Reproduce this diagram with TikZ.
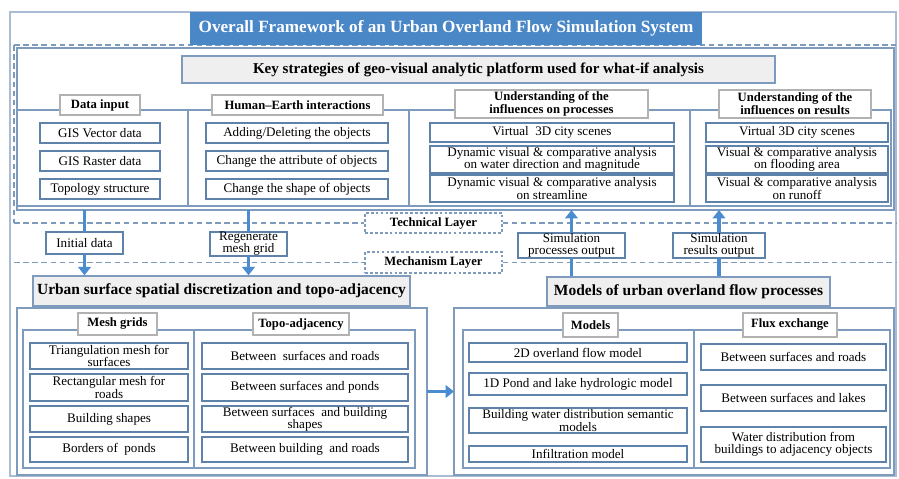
\documentclass[tikz,border=0pt]{standalone}
\usepackage{fontspec}
\setmainfont{Liberation Serif}
\usetikzlibrary{arrows.meta}
\definecolor{frameblue}{HTML}{5F82AA}
\definecolor{panelline}{HTML}{7E9BBE}
\definecolor{outerline}{HTML}{AABCD3}
\definecolor{titleblue}{HTML}{4A87C7}
\definecolor{arrowblue}{HTML}{4B8CD0}
\definecolor{stripgray}{HTML}{EFEFEF}
\tikzset{
  sz/.style 2 args={minimum width=#1*.025cm,minimum height=#2*.025cm},
  itembox/.style={draw=frameblue,line width=.9pt,fill=white,inner sep=0pt,outer sep=0pt,align=center,font=\fontsize{9.3}{8.6}\selectfont},
  headbox/.style={draw=gray!60,line width=.8pt,fill=white,inner sep=0pt,align=center,font=\bfseries\fontsize{9}{7.6}\selectfont},
  graybox/.style={draw=panelline,line width=1pt,fill=stripgray,inner sep=0pt,font=\bfseries\fontsize{11}{12}\selectfont},
  panelbox/.style={draw=panelline,line width=1pt,inner sep=0pt,outer sep=0pt},
  layerlab/.style={draw=panelline,dash pattern=on 2pt off 1.5pt,line width=.8pt,fill=white,inner sep=0pt,font=\bfseries\fontsize{9}{10}\selectfont},
  laydash/.style={draw=panelline,dash pattern=on 4pt off 2.5pt,line width=1.2pt},
  flowline/.style={draw=arrowblue,line width=2.2pt},
  flowarr/.style={flowline,-{Triangle[width=9pt,length=6pt]}},
}
\begin{document}
\begin{tikzpicture}[x=.025cm,y=-.025cm]
\useasboundingbox(0,0)rectangle(899,479);
%frames and layers
\draw[outerline,line width=1.2pt](10,12)rectangle(896,476);
\draw[laydash](14,45)--(896,45);
\draw[laydash](14,45)--(14,223);
\node[fill=titleblue,text=white,inner sep=0pt,sz={512}{33},font=\bfseries\fontsize{12.2}{13}\selectfont](title)at(446,28.5){Overall Framework of an Urban Overland Flow Simulation System};
\node[layerlab,sz={137}{20}](tech)at(433.5,223){Technical Layer};
\node[layerlab,sz={137}{21}](mech)at(433.5,262.5){Mechanism Layer};
\draw[laydash](14,223)--(tech.west);
\draw[laydash](tech.east)--(896,223);
\draw[laydash](14,262.5)--(mech.west);
\draw[laydash](mech.east)--(896,262.5);
%technical layer
\node[panelbox,fill=white,sz={877}{162}](techpanel)at(455.5,129){};
\node[graybox,sz={593}{27},font=\bfseries\fontsize{10.7}{11}\selectfont](keys)at(478.5,69.5){Key strategies of geo-visual analytic platform used for what-if analysis};
\draw[panelline,line width=1pt](17,110)rectangle(891,206);
\foreach \x in {188,409,690}{
\draw[panelline,line width=1pt](\x,110)--(\x,206);
}
\node[headbox,sz={80}{20}](datain)at(100,105){Data input};
\node[headbox,sz={171}{20}](human)at(297.5,105){Human--Earth interactions};
\node[headbox,sz={193}{28}](uproc)at(551.5,104){Understanding of the\\influences on processes};
\node[headbox,sz={152}{28}](ures)at(795,104){Understanding of the\\influences on results};
\foreach \n/\y/\t in {1/133/GIS Vector data,2/161/GIS Raster data,3/189/Topology structure}{
\node[itembox,sz={120}{20}](din\n)at(100,\y){\t};
}
\foreach \n/\y/\t in {1/133/{Adding/Deleting the objects},2/161/Change the attribute of objects,3/189/Change the shape of objects}{
\node[itembox,sz={182}{20}](hei\n)at(297,\y){\t};
}
\foreach \n/\y/\h/\t in {1/132.5/19/Virtual\ \ 3D city scenes,2/159.5/27/{Dynamic visual \& comparative analysis\\on water direction and magnitude},3/188.5/27/{Dynamic visual \& comparative analysis\\on streamline}}{
\node[itembox,sz={244}{\h}](upr\n)at(552,\y){\t};
}
\foreach \n/\y/\h/\t in {1/132.5/19/Virtual 3D city scenes,2/159.5/27/{Visual \& comparative analysis\\on flooding area},3/188.5/27/{Visual \& comparative analysis\\on runoff}}{
\node[itembox,sz={182}{\h}](ure\n)at(797,\y){\t};
}
%mechanism layer
\node[graybox,sz={377}{30}](urban)at(221.5,291){Urban surface spatial discretization and topo-adjacency};
\node[graybox,sz={283}{29}](models)at(688.5,291.5){Models of urban overland flow processes};
\node[panelbox,sz={410}{167}](lpanel)at(222,391.5){};
\node[panelbox,sz={440}{167}](rpanel)at(674,391.5){};
\draw[panelline,line width=1pt](23,330)rectangle(415,468);
\draw[panelline,line width=1pt](194,330)--(194,468);
\draw[panelline,line width=1pt](463,330)rectangle(890,468);
\draw[panelline,line width=1pt](694,330)--(694,468);
\node[headbox,sz={79}{22}](mesh)at(117.5,324){Mesh grids};
\node[headbox,sz={96}{22}](topo)at(301,324){Topo-adjacency};
\node[headbox,sz={55}{24}](mods)at(590.5,325){Models};
\node[headbox,sz={94}{24}](flux)at(790,325){Flux exchange};
\foreach \n/\y/\h/\t in {1/356/26/{Triangulation mesh for\\surfaces},2/387.5/27/{Rectangular mesh for\\roads},3/419/26/Building shapes,4/449.5/25/Borders of\ \ ponds}{
\node[itembox,sz={158}{\h}](msh\n)at(109,\y){\t};
}
\foreach \n/\y/\h/\t in {1/356/26/Between\ \ surfaces and roads,2/387.5/27/Between surfaces and ponds,3/419/26/{Between surfaces\ \ and building\\shapes},4/449.5/25/Between building\ \ and roads}{
\node[itembox,sz={206}{\h}](tad\n)at(305,\y){\t};
}
\foreach \n/\y/\h/\t in {1/352.5/19/2D overland flow model,2/384/22/1D Pond and lake hydrologic model,3/420.5/25/{Building water distribution semantic\\models},4/454/16/Infiltration model}{
\node[itembox,sz={218}{\h}](mdl\n)at(578,\y){\t};
}
\foreach \n/\y/\h/\t in {1/357/26/Between surfaces and roads,2/398/26/Between surfaces and lakes,3/444.5/35/{Water distribution from\\buildings to adjacency objects}}{
\node[itembox,sz={185}{\h}](flx\n)at(793.5,\y){\t};
}
%connectors
\node[itembox,sz={77}{22}](init)at(84.5,243){Initial data};
\node[itembox,sz={77}{24}](regen)at(248.5,244){Regenerate\\mesh grid};
\node[itembox,sz={107}{25}](simproc)at(571.5,245.5){Simulation\\processes output};
\node[itembox,sz={92}{25}](simres)at(719,245.5){Simulation\\results output};
\draw[flowline](init.north)--(init.north|-techpanel.south);
\draw[flowarr](init.south)--(init.south|-urban.north);
\draw[flowline](regen.north)--(regen.north|-techpanel.south);
\draw[flowarr](regen.south)--(regen.south|-urban.north);
\draw[flowarr](simproc.north)--(simproc.north|-techpanel.south);
\draw[flowline](simproc.south)--(simproc.south|-models.north);
\draw[flowarr](simres.north)--(simres.north|-techpanel.south);
\draw[flowline](simres.south)--(simres.south|-models.north);
\draw[flowarr](lpanel.east)--(rpanel.west);
\end{tikzpicture}
\end{document}
